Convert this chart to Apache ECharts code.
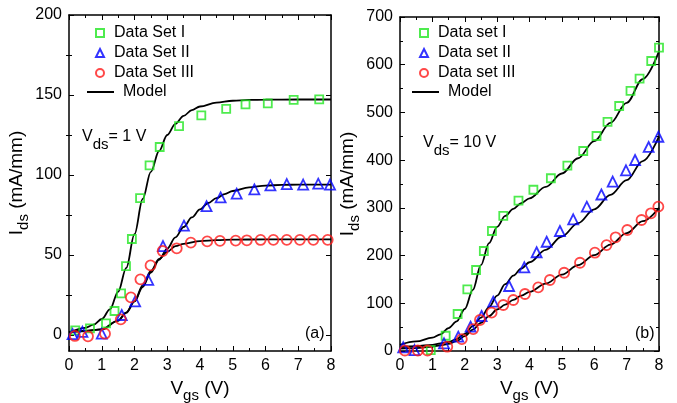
<!DOCTYPE html>
<html>
<head>
<meta charset="utf-8">
<script src="https://cdn.jsdelivr.net/npm/echarts@6/dist/echarts.min.js"></script>
<style>
  html, body { margin: 0; padding: 0; background: #fff; }
  #chart { width: 677px; height: 403px; }
</style>
</head>
<body>
<div id="chart"></div>
<script>
// ---- Panel (a): Vds = 1 V ----
const setIa_v   = [0.19, 0.64, 1.13, 1.39, 1.59, 1.74, 1.92, 2.17, 2.46, 2.77, 3.36, 4.04, 4.80, 5.39, 6.07, 6.86, 7.64];
const setIa_i   = [2.9, 4.2, 7.3, 15, 26, 43, 60, 85.5, 106, 117.5, 130.6, 137.3, 141.3, 144.2, 144.8, 146.9, 147.3];
const setIIa_v  = [0.11, 0.41, 1.0, 1.61, 2.02, 2.42, 2.87, 3.51, 4.20, 4.63, 5.12, 5.66, 6.15, 6.65, 7.15, 7.61, 7.97];
const setIIa_i  = [0.6, 2, 0.8, 12.5, 21, 34.4, 55.6, 68.3, 80.5, 86, 88.3, 91, 93.5, 94.3, 94, 94.6, 94];
const setIIIa_v = [0.18, 0.58, 1.10, 1.58, 1.89, 2.18, 2.49, 2.86, 3.29, 3.72, 4.22, 4.61, 5.09, 5.43, 5.85, 6.24, 6.65, 7.05, 7.46, 7.90];
const setIIIa_i = [-0.6, -0.8, 0.8, 9.8, 23.5, 34.8, 43.5, 52.5, 54.2, 57.7, 58.5, 58.8, 59, 59.2, 59.4, 59.5, 59.5, 59.5, 59.5, 59.5];

const modelIa_v = [0, 0.5, 0.75, 1, 1.25, 1.5, 1.75, 2, 2.25, 2.5, 2.75, 3, 3.25, 3.5, 3.75, 4, 4.5, 5, 5.5, 6, 7, 8];
const modelIa_i = [1.5, 4.5, 6.5, 10, 16, 27, 42, 63, 85, 102, 115, 125, 132, 137, 140.5, 142.8, 145.2, 146.4, 146.9, 147.1, 147.2, 147.2];
const modelIIa_v = [0, 0.5, 1, 1.5, 1.75, 2, 2.25, 2.5, 2.75, 3, 3.25, 3.5, 3.75, 4, 4.25, 4.5, 4.75, 5, 5.5, 6, 6.5, 7, 8];
const modelIIa_i = [2, 2.5, 3.5, 9, 14, 21, 30, 39, 47, 54, 61, 67.5, 73.5, 78.5, 82.5, 85.5, 88, 90, 92.3, 93.4, 93.8, 94, 94];
const modelIIIa_v = [0, 0.5, 1, 1.5, 1.75, 2, 2.25, 2.5, 2.75, 3, 3.25, 3.5, 4, 4.5, 5, 6, 8];
const modelIIIa_i = [2, 2.5, 3.5, 9, 14, 21, 31, 40, 47.5, 52, 55.5, 57, 58.7, 59.3, 59.6, 59.8, 59.8];

// ---- Panel (b): Vds = 10 V ----
const setIb_v   = [0.95, 1.41, 1.78, 2.08, 2.35, 2.59, 2.84, 3.19, 3.66, 4.12, 4.66, 5.17, 5.66, 6.07, 6.41, 6.77, 7.12, 7.40, 7.76, 8.0];
const setIb_i   = [2, 32, 77.5, 129.3, 169.8, 209.6, 251.5, 283, 315, 338, 362, 388.4, 419.2, 450.6, 480, 513.5, 545, 570.7, 607.8, 635.7];
const setIIb_v  = [0.10, 0.45, 1.36, 1.80, 2.18, 2.52, 2.88, 3.37, 3.84, 4.22, 4.53, 4.94, 5.35, 5.77, 6.22, 6.57, 6.98, 7.26, 7.68, 7.98];
const setIIb_i  = [7.7, 2, 16, 30, 51, 73.4, 103.4, 136.2, 175.4, 207, 229, 251.5, 276, 302.5, 328, 355, 378.7, 400.3, 427.6, 449];
const setIIIb_v = [0.15, 0.55, 0.85, 1.46, 1.91, 2.26, 2.47, 2.83, 3.19, 3.50, 3.86, 4.27, 4.63, 5.07, 5.56, 6.02, 6.38, 6.66, 7.02, 7.46, 7.75, 7.98];
const setIIIb_i = [1, 1, 1, 9, 25, 46, 65, 80.3, 96.4, 106.9, 119.5, 133.5, 148.8, 164, 185, 206, 222, 238.3, 253.6, 274.6, 288.6, 302.5];

const modelB_v    = [0, 0.5, 1, 1.25, 1.5, 1.75, 2, 2.25, 2.5, 2.75, 3, 3.25, 3.5, 3.75, 4, 4.5, 5, 5.5, 6, 6.5, 7, 7.5, 8];
const modelIb_i   = [13, 20, 28, 35, 48, 62, 88, 128, 180, 226, 260, 283, 298, 310, 320, 344, 372, 404, 440, 478, 520, 570, 628];
const modelIIb_i  = [8, 10, 13, 16, 19, 25, 36, 52, 70, 92, 116, 140, 158, 173, 186, 212, 240, 268, 297, 327, 358, 398, 450];
const modelIIIb_i = [5, 6, 9, 12, 15, 21, 31, 45, 59, 73, 87, 97, 107, 116, 124, 141, 160, 180, 201, 223, 247, 272, 300];

// ---- Axis ticks ----
const yTicksA = [0, 50, 100, 150, 200];
const yMinorA = [25, 75, 125, 175];

const legendNamesA = ['Data Set I', 'Data Set II', 'Data Set III'];
const legendNamesB = ['Data set I', 'Data set II', 'Data set III'];

const FONT = 'Liberation Sans, Arial, sans-serif';
const GREEN = '#22e622', BLUE = '#0000ff', RED = '#ff1a1a';

const zip = (xs, ys) => xs.map((x, k) => [x, ys[k]]);

const grids = [
  { left: 69, top: 15, width: 262, height: 336, outerBoundsMode: 'none', containLabel: false },
  { left: 400, top: 17, width: 259, height: 334, outerBoundsMode: 'none', containLabel: false }
];

const nameRich = {
  b: { fontSize: 19, fontFamily: FONT, color: '#000', verticalAlign: 'top', lineHeight: 22 },
  s: { fontSize: 15, fontFamily: FONT, color: '#000', verticalAlign: 'top', lineHeight: 22, padding: [9, 0, 0, 0] }
};

function xAxes(gi) {
  const base = {
    gridIndex: gi, type: 'value', min: 0, max: 8, interval: 1,
    axisLine: { show: true, onZero: false, lineStyle: { color: '#000', width: 1.5 } },
    axisTick: { show: true, inside: true, length: 5, lineStyle: { color: '#000', width: 1 } },
    minorTick: { show: true, splitNumber: 2, length: 3, lineStyle: { color: '#000', width: 1 } },
    splitLine: { show: false }
  };
  return [
    Object.assign({}, base, {
      position: 'bottom',
      axisLabel: { fontSize: 16, color: '#000', fontFamily: FONT, margin: 7 },
      name: '{b|V}{s|gs}{b| (V)}', nameLocation: 'middle', nameGap: 28,
      nameTextStyle: { rich: nameRich }
    }),
    Object.assign({}, base, { position: 'top', axisLabel: { show: false } })
  ];
}

function yAxesA() {
  const common = { gridIndex: 0, type: 'value', min: -10, max: 200, splitLine: { show: false } };
  const major = {
    axisLine: { show: true, onZero: false, lineStyle: { color: '#000', width: 1.5 } },
    axisTick: { show: true, inside: true, length: 5, customValues: yTicksA, lineStyle: { color: '#000' } }
  };
  const minor = {
    axisLine: { show: false },
    axisLabel: { show: false },
    axisTick: { show: true, inside: true, length: 3, customValues: yMinorA, lineStyle: { color: '#000' } }
  };
  return [
    Object.assign({}, common, major, {
      position: 'left',
      axisLabel: { customValues: yTicksA, fontSize: 16, color: '#000', fontFamily: FONT, margin: 7 },
      name: '{b|I}{s|ds}{b| (mA/mm)}', nameLocation: 'middle', nameGap: 40, nameRotate: 90,
      nameTextStyle: { rich: nameRich }
    }),
    Object.assign({}, common, minor, { position: 'left' }),
    Object.assign({}, common, major, { position: 'right', axisLabel: { show: false } }),
    Object.assign({}, common, minor, { position: 'right' })
  ];
}

function yAxesB() {
  const base = {
    gridIndex: 1, type: 'value', min: 0, max: 700, interval: 100,
    axisLine: { show: true, onZero: false, lineStyle: { color: '#000', width: 1.5 } },
    axisTick: { show: true, inside: true, length: 5, lineStyle: { color: '#000' } },
    minorTick: { show: true, splitNumber: 2, length: 3, lineStyle: { color: '#000' } },
    splitLine: { show: false }
  };
  return [
    Object.assign({}, base, {
      position: 'left',
      axisLabel: { fontSize: 16, color: '#000', fontFamily: FONT, margin: 7 },
      name: '{b|I}{s|ds}{b| (mA/mm)}', nameLocation: 'middle', nameGap: 40, nameRotate: 90,
      nameTextStyle: { rich: nameRich }
    }),
    Object.assign({}, base, { position: 'right', axisLabel: { show: false } })
  ];
}

const xAxis = xAxes(0).concat(xAxes(1));   // 0,1 -> grid 0 ; 2,3 -> grid 1
const yAxis = yAxesA().concat(yAxesB());   // 0..3 -> grid 0 ; 4,5 -> grid 1

function scatter(name, data, xi, yi, symbol, color, size) {
  return {
    name, type: 'scatter', xAxisIndex: xi, yAxisIndex: yi, data,
    symbol, symbolSize: size,
    itemStyle: { color: 'rgba(0,0,0,0)', borderColor: color, borderWidth: 1.8 },
    z: 3
  };
}
function model(name, data, xi, yi) {
  return {
    name, type: 'line', xAxisIndex: xi, yAxisIndex: yi, data,
    smooth: 0.35, smoothMonotone: 'x', showSymbol: false, symbol: 'none',
    lineStyle: { color: '#000', width: 1.8 }, itemStyle: { color: '#000' }, z: 2
  };
}

const series = [
  model('Model', zip(modelIa_v, modelIa_i), 0, 0),
  model('Model', zip(modelIIa_v, modelIIa_i), 0, 0),
  model('Model', zip(modelIIIa_v, modelIIIa_i), 0, 0),
  scatter(legendNamesA[0], zip(setIa_v, setIa_i), 0, 0, 'rect', GREEN, 8),
  scatter(legendNamesA[1], zip(setIIa_v, setIIa_i), 0, 0, 'triangle', BLUE, 10),
  scatter(legendNamesA[2], zip(setIIIa_v, setIIIa_i), 0, 0, 'circle', RED, 10),

  model('Model ', zip(modelB_v, modelIb_i), 2, 4),
  model('Model ', zip(modelB_v, modelIIb_i), 2, 4),
  model('Model ', zip(modelB_v, modelIIIb_i), 2, 4),
  scatter(legendNamesB[0], zip(setIb_v, setIb_i), 2, 4, 'rect', GREEN, 8),
  scatter(legendNamesB[1], zip(setIIb_v, setIIb_i), 2, 4, 'triangle', BLUE, 10),
  scatter(legendNamesB[2], zip(setIIIb_v, setIIIb_i), 2, 4, 'circle', RED, 10)
];

const legendText = { fontSize: 16, fontFamily: FONT, color: '#000', lineHeight: 20, padding: [0, 0, 0, 5] };
function symLegend(names, left, top) {
  return {
    data: names, orient: 'vertical', left, top, itemWidth: 8, itemHeight: 8,
    itemGap: 0, textStyle: legendText, padding: 0, selectedMode: false,
    itemStyle: { borderWidth: 2 }
  };
}
function lineLegend(name, left, top) {
  return {
    data: [name], orient: 'vertical', left, top, itemWidth: 27, itemHeight: 2,
    itemGap: 0, textStyle: Object.assign({}, legendText, { padding: [0, 0, 0, 4] }),
    padding: 0, selectedMode: false, formatter: () => 'Model'
  };
}

function sub(x, y, main, subs, tail) {
  return {
    type: 'text', left: x, top: y,
    style: {
      text: '{b|' + main + '}{s|' + subs + '}{b|' + tail + '}',
      rich: {
        b: { fontSize: 16, fontFamily: FONT, fill: '#000', verticalAlign: 'top', lineHeight: 20 },
        s: { fontSize: 15, fontFamily: FONT, fill: '#000', verticalAlign: 'top', lineHeight: 20, padding: [8, 0, 0, 0] }
      }
    }
  };
}

const option = {
  animation: false,
  backgroundColor: '#fff',
  grid: grids,
  xAxis, yAxis, series,
  legend: [
    symLegend(legendNamesA, 95, 23),
    lineLegend('Model', 86, 82),
    symLegend(legendNamesB, 419, 23),
    lineLegend('Model ', 411, 82)
  ],
  graphic: [
    sub(82, 129, 'V', 'ds', '= 1 V'),
    sub(423, 135, 'V', 'ds', '= 10 V'),
    { type: 'text', left: 305, top: 326, style: { text: '(a)', fontSize: 16, fontFamily: FONT, fill: '#000' } },
    { type: 'text', left: 635, top: 326, style: { text: '(b)', fontSize: 16, fontFamily: FONT, fill: '#000' } }
  ]
};

const chart = echarts.init(document.getElementById('chart'), null, { renderer: 'canvas' });
chart.setOption(option);
</script>
</body>
</html>
